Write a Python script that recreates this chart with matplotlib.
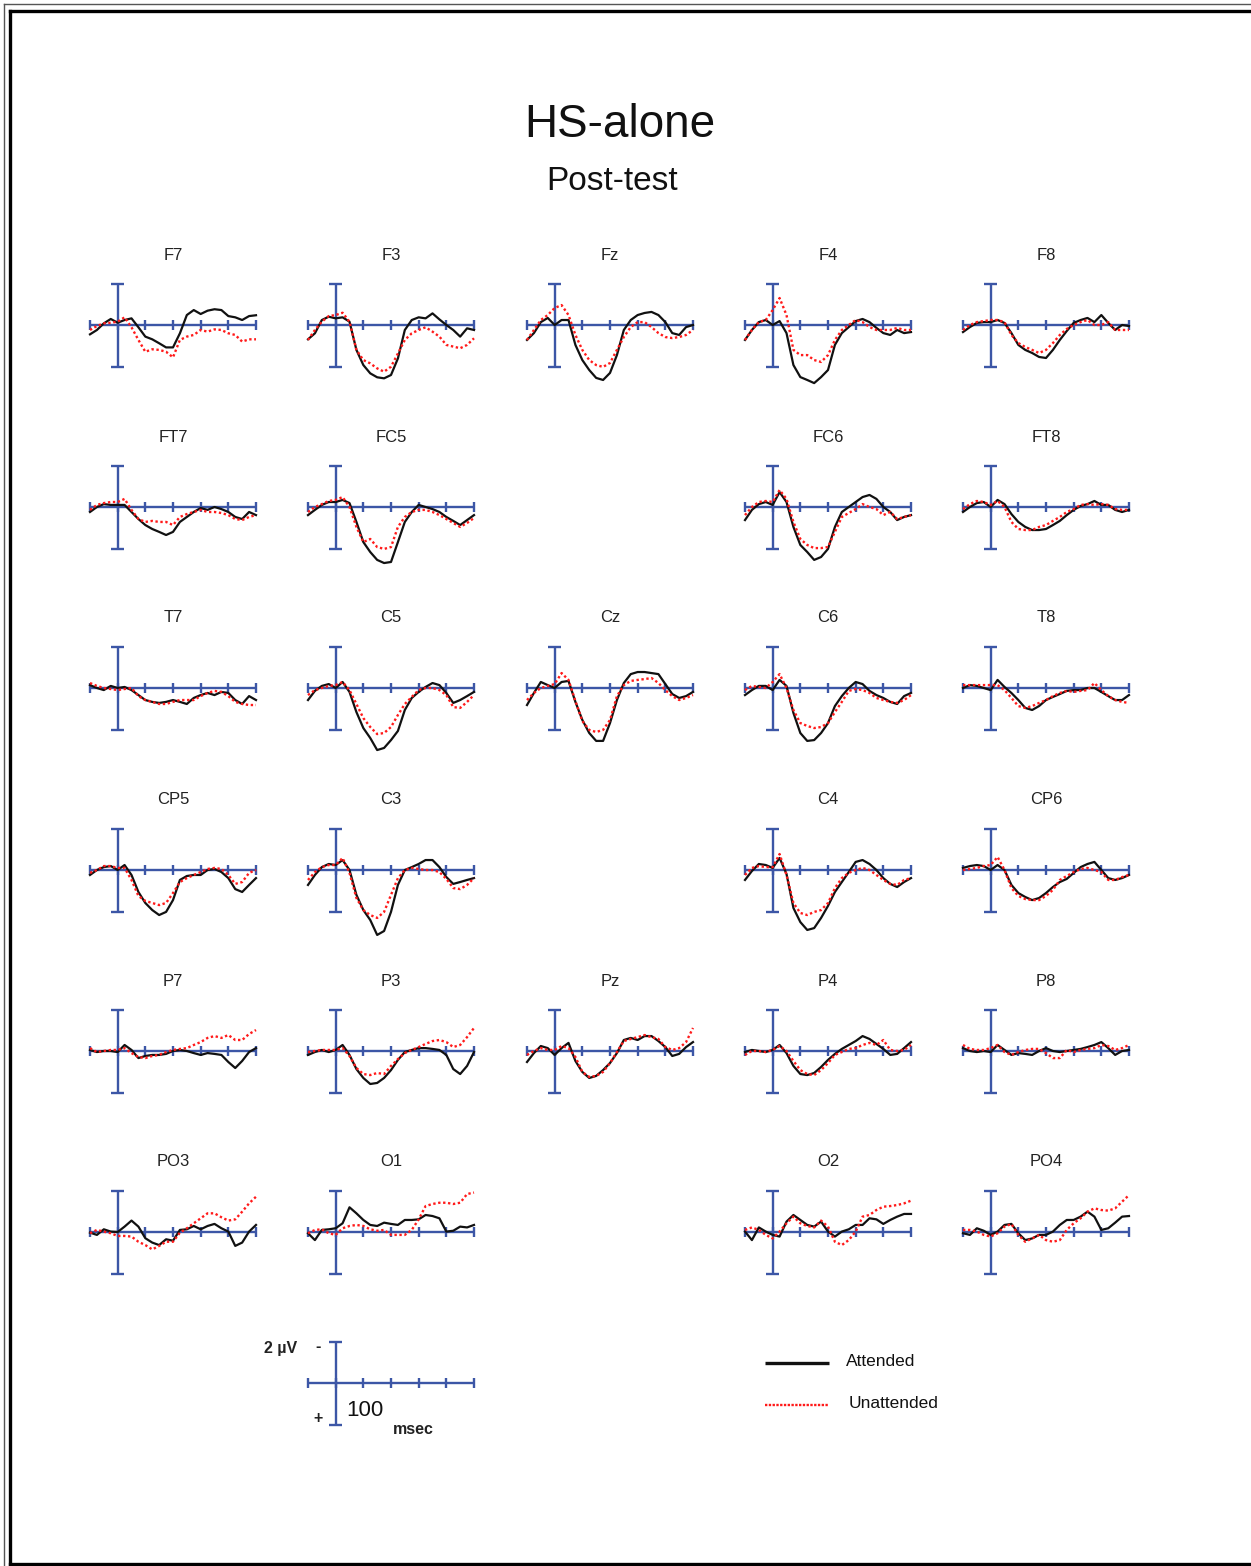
import numpy as np
import matplotlib
matplotlib.use("Agg")
import matplotlib.pyplot as plt

# ---------------- data (µV, negative plotted upward) ----------------
times = [-100, -75, -50, -25, 0, 25, 50, 75, 100, 125, 150, 175, 200,
         225, 250, 275, 300, 325, 350, 375, 400, 425, 450, 475, 500]
tick_times = [-100, 0, 100, 200, 300, 400, 500]

F7_att = [0.45, 0.24, -0.08, -0.29, -0.11, -0.24, -0.32, 0.11, 0.56, 0.69, 0.88, 1.08, 1.08, 0.40, -0.48, -0.72, -0.53, -0.69, -0.76, -0.72, -0.43, -0.37, -0.24, -0.43, -0.47]
F7_un = [0.24, 0.05, -0.08, -0.11, -0.16, -0.37, 0.11, 0.72, 1.29, 1.17, 1.20, 1.29, 1.56, 0.72, 0.56, 0.48, 0.24, 0.32, 0.21, 0.24, 0.40, 0.48, 0.80, 0.69, 0.69]
F3_att = [0.69, 0.40, -0.24, -0.40, -0.32, -0.37, -0.16, 1.20, 1.93, 2.33, 2.52, 2.57, 2.41, 1.61, 0.24, -0.24, -0.37, -0.32, -0.56, -0.27, 0.0, 0.24, 0.56, 0.16, 0.24]
F3_un = [0.72, 0.24, -0.16, -0.43, -0.48, -0.59, -0.16, 1.20, 1.69, 1.85, 2.09, 2.25, 2.01, 1.37, 0.72, 0.40, 0.24, 0.11, 0.32, 0.56, 0.96, 1.04, 1.12, 0.96, 0.64]
Fz_att = [0.72, 0.39, -0.14, -0.34, 0.0, -0.24, -0.24, 0.96, 1.69, 2.17, 2.55, 2.65, 2.31, 1.45, 0.24, -0.24, -0.48, -0.58, -0.63, -0.48, -0.14, 0.39, 0.48, 0.10, 0.0]
Fz_un = [0.72, 0.24, -0.24, -0.48, -0.82, -0.96, -0.48, 0.48, 1.20, 1.69, 1.93, 2.02, 1.83, 1.20, 0.58, 0.10, -0.14, -0.14, 0.10, 0.39, 0.58, 0.63, 0.58, 0.48, 0.24]
F4_att = [0.72, 0.24, -0.14, -0.24, 0.0, -0.19, 0.39, 1.93, 2.51, 2.65, 2.80, 2.51, 2.17, 0.96, 0.39, 0.10, -0.19, -0.29, -0.14, 0.14, 0.39, 0.48, 0.24, 0.39, 0.34]
F4_un = [0.72, 0.24, -0.14, -0.24, -0.72, -1.30, -0.48, 1.20, 1.45, 1.45, 1.69, 1.78, 1.45, 0.72, 0.24, 0.0, -0.24, -0.14, 0.10, 0.24, 0.24, 0.24, 0.14, 0.24, 0.24]
F8_att = [0.34, 0.10, -0.10, -0.14, -0.14, -0.24, -0.10, 0.39, 0.96, 1.20, 1.35, 1.54, 1.59, 1.20, 0.72, 0.29, -0.10, -0.24, -0.34, -0.14, -0.48, -0.10, 0.24, 0.0, 0.05]
F8_un = [0.24, 0.0, -0.14, -0.19, -0.24, -0.24, -0.14, 0.48, 0.87, 1.06, 1.20, 1.35, 1.20, 0.87, 0.48, 0.19, 0.0, -0.14, -0.24, 0.0, 0.0, -0.14, 0.24, 0.24, 0.24]

FT7_att = [0.24, 0.0, -0.14, -0.10, -0.10, -0.10, 0.24, 0.58, 0.87, 1.06, 1.20, 1.35, 1.20, 0.72, 0.48, 0.24, 0.05, 0.14, 0.0, 0.10, 0.24, 0.48, 0.58, 0.24, 0.39]
FT7_un = [0.14, -0.10, -0.19, -0.24, -0.24, -0.39, 0.14, 0.58, 0.72, 0.67, 0.72, 0.72, 0.87, 0.48, 0.34, 0.24, 0.14, 0.24, 0.24, 0.29, 0.39, 0.58, 0.63, 0.48, 0.39]
FC5_att = [0.39, 0.14, -0.10, -0.24, -0.24, -0.34, -0.19, 0.72, 1.69, 2.17, 2.55, 2.70, 2.65, 1.69, 0.72, 0.24, -0.10, 0.0, 0.10, 0.24, 0.48, 0.67, 0.87, 0.63, 0.39]
FC5_un = [0.24, 0.0, -0.14, -0.29, -0.34, -0.48, 0.0, 0.96, 1.69, 1.54, 1.93, 2.02, 1.93, 0.96, 0.48, 0.24, 0.14, 0.14, 0.24, 0.39, 0.58, 0.77, 0.96, 0.77, 0.53]
FC6_att = [0.63, 0.14, -0.14, -0.24, -0.10, -0.72, -0.24, 0.96, 1.83, 2.17, 2.55, 2.41, 2.02, 0.96, 0.24, 0.0, -0.24, -0.48, -0.58, -0.39, 0.0, 0.24, 0.63, 0.48, 0.39]
FC6_un = [0.39, 0.0, -0.24, -0.29, -0.24, -0.82, -0.39, 0.72, 1.54, 1.83, 1.98, 1.98, 1.93, 1.20, 0.48, 0.29, 0.10, -0.14, 0.0, 0.10, 0.39, 0.24, 0.58, 0.48, 0.39]
FT8_att = [0.24, 0.0, -0.19, -0.24, 0.0, -0.34, -0.14, 0.34, 0.72, 0.96, 1.11, 1.11, 1.06, 0.87, 0.67, 0.39, 0.14, -0.05, -0.14, -0.29, -0.10, -0.10, 0.14, 0.24, 0.14]
FT8_un = [0.10, -0.14, -0.29, -0.24, -0.10, -0.29, 0.0, 0.72, 1.06, 1.11, 1.11, 0.96, 0.87, 0.67, 0.48, 0.24, 0.10, -0.10, -0.14, -0.10, -0.14, -0.10, 0.10, 0.14, 0.14]

T7_att = [-0.14, 0.0, 0.10, -0.10, 0.0, -0.05, 0.10, 0.34, 0.58, 0.67, 0.72, 0.67, 0.58, 0.67, 0.77, 0.48, 0.34, 0.24, 0.34, 0.19, 0.24, 0.58, 0.77, 0.39, 0.58]
T7_un = [-0.24, -0.10, 0.0, 0.05, 0.10, 0.05, 0.0, 0.39, 0.58, 0.67, 0.77, 0.77, 0.67, 0.58, 0.58, 0.58, 0.39, 0.24, 0.14, 0.19, 0.39, 0.67, 0.77, 0.82, 0.82]
C5_att = [0.58, 0.14, -0.10, -0.19, 0.0, -0.29, 0.19, 1.16, 1.93, 2.41, 2.99, 2.89, 2.51, 2.07, 1.06, 0.48, 0.19, -0.05, -0.24, -0.14, 0.24, 0.72, 0.58, 0.39, 0.19]
C5_un = [0.34, 0.10, 0.0, -0.10, -0.14, -0.29, 0.10, 0.77, 1.45, 1.88, 2.22, 2.17, 1.88, 1.30, 0.77, 0.43, 0.10, 0.0, 0.0, 0.10, 0.34, 0.92, 0.96, 0.67, 0.34]
Cz_att = [0.82, 0.24, -0.29, -0.14, 0.0, -0.29, -0.34, 0.67, 1.54, 2.17, 2.55, 2.55, 1.69, 0.58, -0.24, -0.67, -0.77, -0.77, -0.72, -0.67, -0.19, 0.29, 0.48, 0.39, 0.19]
Cz_un = [0.58, 0.24, 0.0, -0.10, -0.19, -0.72, -0.39, 0.63, 1.59, 2.02, 2.12, 2.02, 1.54, 0.39, -0.14, -0.34, -0.39, -0.43, -0.48, -0.24, 0.10, 0.39, 0.58, 0.48, 0.34]
C6_att = [0.34, 0.10, -0.10, -0.10, 0.10, -0.39, -0.10, 1.20, 2.17, 2.55, 2.51, 2.17, 1.69, 0.87, 0.39, 0.0, -0.29, -0.19, 0.14, 0.34, 0.48, 0.67, 0.77, 0.39, 0.24]
C6_un = [0.10, -0.10, -0.05, 0.0, -0.29, -0.67, 0.0, 1.06, 1.69, 1.83, 1.93, 1.88, 1.69, 1.16, 0.67, 0.14, 0.05, 0.10, 0.24, 0.48, 0.58, 0.67, 0.72, 0.58, 0.34]
T8_att = [0.0, -0.14, -0.10, 0.0, 0.10, -0.39, -0.05, 0.24, 0.58, 0.96, 1.06, 0.87, 0.58, 0.43, 0.29, 0.14, 0.10, 0.10, 0.0, 0.0, 0.19, 0.39, 0.58, 0.58, 0.34]
T8_un = [-0.14, -0.14, -0.14, -0.14, -0.14, -0.14, 0.10, 0.48, 0.87, 0.96, 0.87, 0.72, 0.58, 0.39, 0.24, 0.14, 0.19, 0.14, 0.10, -0.24, 0.10, 0.39, 0.58, 0.67, 0.72]

CP5_att = [0.24, 0.0, -0.14, -0.19, 0.0, -0.24, 0.24, 1.06, 1.59, 1.93, 2.17, 2.02, 1.45, 0.48, 0.29, 0.24, 0.24, 0.0, -0.05, 0.10, 0.39, 0.92, 1.06, 0.72, 0.39]
CP5_un = [0.14, 0.0, -0.19, -0.19, -0.10, -0.10, 0.48, 1.25, 1.49, 1.59, 1.69, 1.59, 1.11, 0.58, 0.39, 0.24, 0.10, -0.05, -0.10, -0.05, 0.24, 0.67, 0.58, 0.14, 0.0]
C3_att = [0.72, 0.24, -0.14, -0.29, -0.24, -0.48, 0.0, 1.20, 1.93, 2.41, 3.13, 2.94, 2.02, 0.72, 0.0, -0.14, -0.29, -0.48, -0.48, -0.14, 0.34, 0.67, 0.58, 0.48, 0.39]
C3_un = [0.48, 0.10, -0.14, -0.24, -0.24, -0.58, 0.14, 1.35, 1.93, 2.17, 2.31, 2.02, 1.20, 0.39, 0.0, -0.10, -0.05, 0.0, 0.0, 0.10, 0.43, 0.87, 0.92, 0.72, 0.39]
C4_att = [0.48, 0.05, -0.29, -0.24, -0.10, -0.58, 0.19, 1.83, 2.51, 2.89, 2.80, 2.31, 1.73, 1.06, 0.58, 0.10, -0.39, -0.48, -0.29, 0.0, 0.39, 0.67, 0.82, 0.58, 0.39]
C4_un = [0.24, -0.10, -0.19, -0.14, -0.14, -0.77, 0.24, 1.59, 2.07, 2.17, 2.02, 1.93, 1.59, 0.87, 0.39, 0.14, 0.0, -0.10, 0.0, 0.24, 0.48, 0.67, 0.72, 0.48, 0.39]
CP6_att = [-0.10, -0.19, -0.24, -0.19, 0.0, -0.24, 0.0, 0.72, 1.11, 1.30, 1.45, 1.35, 1.11, 0.82, 0.58, 0.43, 0.14, -0.14, -0.29, -0.39, 0.0, 0.39, 0.48, 0.39, 0.24]
CP6_un = [0.0, -0.05, -0.10, -0.19, -0.24, -0.63, 0.0, 0.87, 1.25, 1.40, 1.45, 1.45, 1.25, 0.96, 0.48, 0.29, 0.10, -0.05, -0.10, 0.0, 0.10, 0.48, 0.48, 0.34, 0.24]

P7_att = [-0.05, 0.05, 0.0, 0.0, 0.05, -0.29, -0.05, 0.34, 0.24, 0.19, 0.19, 0.14, 0.0, -0.05, 0.0, 0.10, 0.19, 0.10, 0.14, 0.19, 0.53, 0.82, 0.48, 0.05, -0.14]
P7_un = [-0.14, 0.05, 0.0, -0.05, -0.05, -0.14, 0.10, 0.29, 0.34, 0.24, 0.19, 0.05, -0.05, -0.10, -0.14, -0.29, -0.43, -0.63, -0.72, -0.63, -0.77, -0.53, -0.53, -0.82, -1.01]
P3_att = [0.19, 0.05, -0.05, 0.05, -0.05, -0.29, 0.19, 0.87, 1.30, 1.59, 1.54, 1.30, 0.92, 0.43, 0.05, -0.05, -0.14, -0.14, -0.10, -0.05, 0.19, 0.87, 1.11, 0.72, 0.05]
P3_un = [0.05, 0.0, -0.05, -0.05, -0.05, -0.14, 0.24, 0.82, 1.11, 1.16, 1.06, 1.11, 0.72, 0.39, 0.10, -0.05, -0.19, -0.34, -0.48, -0.53, -0.43, -0.19, -0.29, -0.67, -1.11]
Pz_att = [0.53, 0.10, -0.24, -0.14, 0.19, -0.14, -0.39, 0.48, 1.01, 1.30, 1.20, 0.92, 0.58, 0.10, -0.53, -0.63, -0.53, -0.72, -0.72, -0.48, -0.19, 0.24, 0.14, -0.19, -0.43]
Pz_un = [0.19, 0.0, -0.14, -0.05, -0.05, -0.24, -0.14, 0.29, 1.01, 1.25, 1.20, 1.01, 0.58, 0.05, -0.48, -0.58, -0.67, -0.77, -0.67, -0.58, -0.19, -0.05, -0.14, -0.43, -1.11]
P4_att = [0.05, -0.05, 0.0, 0.05, -0.05, -0.29, 0.10, 0.72, 1.11, 1.16, 1.06, 0.77, 0.43, 0.14, -0.10, -0.29, -0.48, -0.72, -0.58, -0.34, -0.10, 0.19, 0.14, -0.14, -0.43]
P4_un = [0.19, 0.0, 0.0, 0.05, -0.05, -0.24, 0.0, 0.48, 0.92, 1.11, 1.16, 0.92, 0.58, 0.19, 0.05, -0.10, -0.14, -0.29, -0.39, -0.29, -0.53, -0.05, 0.0, -0.05, -0.29]
P8_att = [-0.14, 0.0, 0.05, 0.0, 0.05, -0.29, -0.05, 0.19, 0.10, 0.14, 0.19, 0.0, -0.14, 0.0, 0.05, 0.0, -0.05, -0.10, -0.19, -0.29, -0.43, -0.14, 0.19, 0.0, -0.05]
P8_un = [-0.29, -0.10, -0.05, -0.05, -0.14, -0.29, 0.05, 0.19, 0.05, -0.05, -0.10, -0.10, 0.10, 0.34, 0.34, -0.05, 0.05, -0.05, -0.10, -0.14, -0.29, -0.24, -0.05, -0.14, -0.29]

PO3_att = [0.03, 0.14, -0.13, -0.02, 0.0, -0.26, -0.55, -0.26, 0.30, 0.51, 0.63, 0.35, 0.42, -0.10, -0.13, -0.29, -0.13, -0.29, -0.39, -0.18, -0.02, 0.67, 0.51, -0.02, -0.34]
PO3_un = [0.06, -0.10, -0.02, 0.06, 0.19, 0.19, 0.22, 0.47, 0.63, 0.84, 0.67, 0.47, 0.47, 0.03, -0.18, -0.42, -0.66, -0.90, -0.90, -0.71, -0.55, -0.61, -0.98, -1.38, -1.70]
O1_att = [0.06, 0.39, -0.10, -0.13, -0.18, -0.42, -1.19, -0.90, -0.58, -0.34, -0.29, -0.45, -0.39, -0.34, -0.58, -0.58, -0.61, -0.82, -0.77, -0.66, -0.02, -0.06, -0.26, -0.22, -0.34]
O1_un = [0.06, -0.10, -0.13, 0.06, 0.14, -0.18, -0.29, -0.34, -0.29, -0.13, -0.06, -0.10, 0.14, 0.14, 0.14, -0.10, -0.61, -1.25, -1.35, -1.41, -1.41, -1.35, -1.41, -1.83, -1.90]
O2_att = [-0.02, 0.39, -0.22, -0.02, 0.14, 0.22, -0.50, -0.82, -0.58, -0.34, -0.26, -0.50, -0.02, 0.22, -0.02, -0.13, -0.34, -0.34, -0.66, -0.61, -0.39, -0.58, -0.74, -0.87, -0.87]
O2_un = [-0.10, -0.22, -0.10, 0.14, 0.31, -0.02, -0.42, -0.74, -0.42, -0.29, -0.22, -0.55, -0.26, 0.47, 0.63, 0.39, -0.02, -0.74, -0.82, -1.06, -1.22, -1.25, -1.30, -1.38, -1.51]
PO4_att = [0.06, 0.14, -0.18, -0.06, 0.14, -0.02, -0.34, -0.39, 0.06, 0.39, 0.31, 0.14, 0.14, -0.02, -0.34, -0.58, -0.58, -0.74, -0.98, -0.74, -0.10, -0.18, -0.45, -0.74, -0.77]
PO4_un = [-0.10, -0.10, -0.02, 0.14, 0.22, 0.06, -0.26, -0.39, 0.14, 0.47, 0.31, 0.14, 0.39, 0.47, 0.39, -0.10, -0.42, -0.66, -0.98, -1.14, -1.06, -1.03, -1.14, -1.46, -1.78]

layout = [["F7", "F3", "Fz", "F4", "F8"],
          ["FT7", "FC5", None, "FC6", "FT8"],
          ["T7", "C5", "Cz", "C6", "T8"],
          ["CP5", "C3", None, "C4", "CP6"],
          ["P7", "P3", "Pz", "P4", "P8"],
          ["PO3", "O1", None, "O2", "PO4"]]

series = {name: (globals()[name + "_att"], globals()[name + "_un"])
          for row in layout for name in row if name}

# ---------------- figure ----------------
W, H = 1251, 1566
BLUE = "#3c56a6"
RED = "#ff1a1a"
SANS = ["Liberation Sans", "DejaVu Sans"]

fig = plt.figure(figsize=(W / 100, H / 100), dpi=100)
fig.patch.set_facecolor("white")
bg = fig.add_axes([0, 0, 1, 1])
bg.set_xlim(0, W)
bg.set_ylim(H, 0)
bg.axis("off")

# page frame
bg.plot([3.5, 3.5], [4, 1600], color="#555555", lw=1.0, clip_on=False)
bg.plot([3.5, 1300], [4, 4], color="#555555", lw=1.0, clip_on=False)
bg.plot([10, 10], [11, 1564], color="black", lw=2.4, clip_on=False)
bg.plot([10, 1300], [11, 11], color="black", lw=2.4, clip_on=False)
bg.plot([10, 1300], [1564, 1564], color="black", lw=2.4, clip_on=False)

bg.text(620, 125, "HS-alone", ha="center", va="center", fontsize=33, family=SANS, color="#111111")
bg.text(612, 181, "Post-test", ha="center", va="center", fontsize=24, family=SANS, color="#111111")

col_x0 = [90, 308, 527, 745, 963]
row_base = [325, 507, 688, 870, 1051, 1232]
PW = 166.0
YR = 3.5
PX_PER_UV = 20.75
PH = 2 * YR * PX_PER_UV


def make_panel(x0, base):
    ax = fig.add_axes([x0 / W, (H - (base + PH / 2)) / H, PW / W, PH / H])
    ax.set_xlim(-100, 500)
    ax.set_ylim(YR, -YR)
    ax.axis("off")
    kw = dict(color=BLUE, lw=1.7, solid_capstyle="butt", clip_on=False, zorder=1)
    ax.plot([-100, 500], [0, 0], **kw)
    ax.plot([0, 0], [-2, 2], **kw)
    ax.plot([-24, 24], [-2, -2], **kw)
    ax.plot([-24, 24], [2, 2], **kw)
    for t in tick_times:
        ax.plot([t, t], [-0.24, 0.24], **kw)
    return ax


for r, row in enumerate(layout):
    for c, name in enumerate(row):
        if name is None:
            continue
        ax = make_panel(col_x0[c], row_base[r])
        att, un = series[name]
        ax.plot(times, att, color="#111111", lw=1.6, zorder=3, clip_on=False)
        ax.plot(times, un, color=RED, lw=1.7, linestyle=(0, (1, 1.1)), zorder=4, clip_on=False)
        bg.text(col_x0[c] + PW / 2, row_base[r] - 70, name, ha="center", va="center",
                fontsize=12, family=SANS, color="#222222")

# scale bar
make_panel(308, 1383)
bg.text(297, 1348, "2 µV", ha="right", va="center", fontsize=11.5, family=SANS, fontweight="bold", color="#222222")
bg.text(318, 1347, "-", ha="center", va="center", fontsize=11.5, family=SANS, fontweight="bold", color="#222222")
bg.text(318, 1418, "+", ha="center", va="center", fontsize=11.5, family=SANS, fontweight="bold", color="#222222")
bg.text(346, 1411, "100", ha="left", va="center", fontsize=16, family=SANS, color="#111111")
bg.text(393, 1430, "msec", ha="left", va="center", fontsize=11.5, family=SANS, fontweight="bold", color="#222222")

# legend
bg.plot([765, 829], [1363, 1363], color="#111111", lw=2.4, solid_capstyle="butt")
bg.plot([765, 829], [1405, 1405], color=RED, lw=1.7, linestyle=(0, (1, 0.6)))
bg.text(846, 1362, "Attended", ha="left", va="center", fontsize=12.5, family=SANS, color="#111111")
bg.text(849, 1404, "Unattended", ha="left", va="center", fontsize=12.5, family=SANS, color="#111111")

fig.savefig("out.png", dpi=100, facecolor="white")
